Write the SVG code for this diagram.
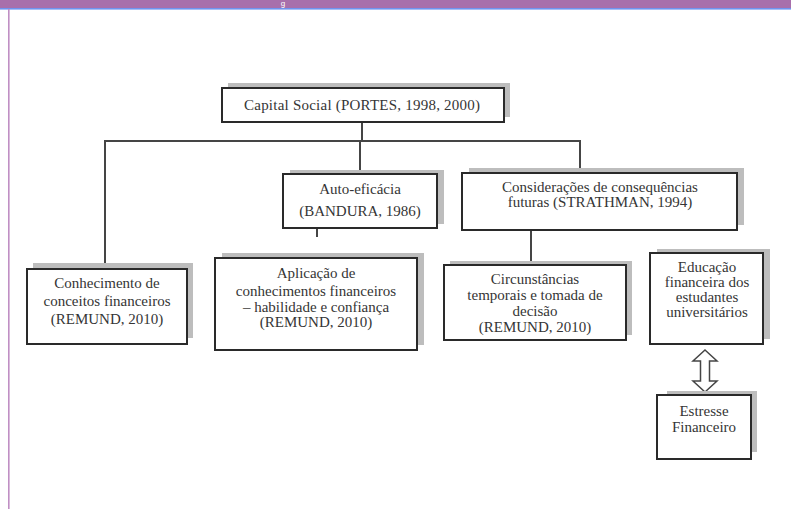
<svg xmlns="http://www.w3.org/2000/svg" width="791" height="509" viewBox="0 0 791 509">
<style>
.bg{fill:#ffffff}
.shadow{fill:#bdbdbd}
.box{fill:#ffffff;stroke:#2a2a2a;stroke-width:2}
.lbl{font-family:'Liberation Serif','DejaVu Serif','Times New Roman',serif;font-size:15px;fill:#353535;text-anchor:middle}
.conn{stroke:#454545;stroke-width:2;fill:none}
.arrow{fill:#ffffff;stroke:#454545;stroke-width:1.5;stroke-linejoin:miter}
</style>
<rect class="bg" x="0" y="0" width="791" height="509"/>
<rect x="0" y="0" width="791" height="8" fill="#a86fab"/>
<rect x="0" y="8" width="791" height="1.6" fill="#6f93ee"/>
<text x="283" y="5.5" font-family="'Liberation Sans', Arial, sans-serif" font-size="8" fill="#ffffff" text-anchor="middle">g</text>
<rect x="8" y="9" width="1.6" height="500" fill="#c08fc4"/>

<g id="connectors">
  <line class="conn" x1="362" y1="122" x2="362" y2="141"/>
  <polyline class="conn" points="105,269 105,141 580,141 580,173"/>
  <line class="conn" x1="360" y1="141" x2="360" y2="174"/>
  <line class="conn" x1="317" y1="228" x2="317" y2="237"/>
  <line class="conn" x1="531" y1="230" x2="531" y2="265"/>
  <path class="arrow" d="M705,350 L717,361 L709.5,361 L709.5,381 L717,381 L705,392 L693,381 L700.5,381 L700.5,361 L693,361 Z"/>
</g>

<g id="capital-social">
  <rect class="shadow" x="228" y="83" width="282" height="34"/>
  <rect class="box" x="222" y="88" width="282" height="34"/>
  <text class="lbl" x="362" y="110" textLength="236" lengthAdjust="spacing">Capital Social (PORTES, 1998, 2000)</text>
</g>

<g id="auto-eficacia">
  <rect class="shadow" x="290" y="170" width="154" height="54"/>
  <rect class="box" x="283" y="174" width="154" height="54"/>
  <text class="lbl" x="360" y="194">Auto-eficácia</text>
  <text class="lbl" x="360" y="216">(BANDURA, 1986)</text>
</g>

<g id="consideracoes">
  <rect class="shadow" x="469" y="168" width="275" height="57"/>
  <rect class="box" x="462" y="173" width="275" height="57"/>
  <text class="lbl" x="600" y="192">Considerações de consequências</text>
  <text class="lbl" x="600" y="207">futuras (STRATHMAN, 1994)</text>
</g>

<g id="conhecimento">
  <rect class="shadow" x="33" y="263" width="160" height="75"/>
  <rect class="box" x="27" y="269" width="160" height="75"/>
  <text class="lbl" x="107" y="288">Conhecimento de</text>
  <text class="lbl" x="107" y="306">conceitos financeiros</text>
  <text class="lbl" x="107" y="324">(REMUND, 2010)</text>
</g>

<g id="aplicacao">
  <rect class="shadow" x="222" y="253" width="202" height="92"/>
  <rect class="box" x="215" y="258" width="202" height="92"/>
  <text class="lbl" x="316" y="278">Aplicação de</text>
  <text class="lbl" x="316" y="296">conhecimentos financeiros</text>
  <text class="lbl" x="316" y="312">– habilidade e confiança</text>
  <text class="lbl" x="316" y="327">(REMUND, 2010)</text>
</g>

<g id="circunstancias">
  <rect class="shadow" x="450" y="261" width="182" height="74"/>
  <rect class="box" x="444" y="265" width="182" height="75"/>
  <text class="lbl" x="535" y="284">Circunstâncias</text>
  <text class="lbl" x="535" y="300">temporais e tomada de</text>
  <text class="lbl" x="535" y="316">decisão</text>
  <text class="lbl" x="535" y="332">(REMUND, 2010)</text>
</g>

<g id="educacao">
  <rect class="shadow" x="657" y="249" width="113" height="90"/>
  <rect class="box" x="650" y="253" width="113" height="91"/>
  <text class="lbl" x="707" y="272">Educação</text>
  <text class="lbl" x="707" y="287">financeira dos</text>
  <text class="lbl" x="707" y="302">estudantes</text>
  <text class="lbl" x="707" y="317">universitários</text>
</g>

<g id="estresse">
  <rect class="shadow" x="667" y="391" width="90" height="61"/>
  <rect class="box" x="657" y="395" width="94" height="64"/>
  <text class="lbl" x="704" y="416">Estresse</text>
  <text class="lbl" x="704" y="432">Financeiro</text>
</g>
</svg>
